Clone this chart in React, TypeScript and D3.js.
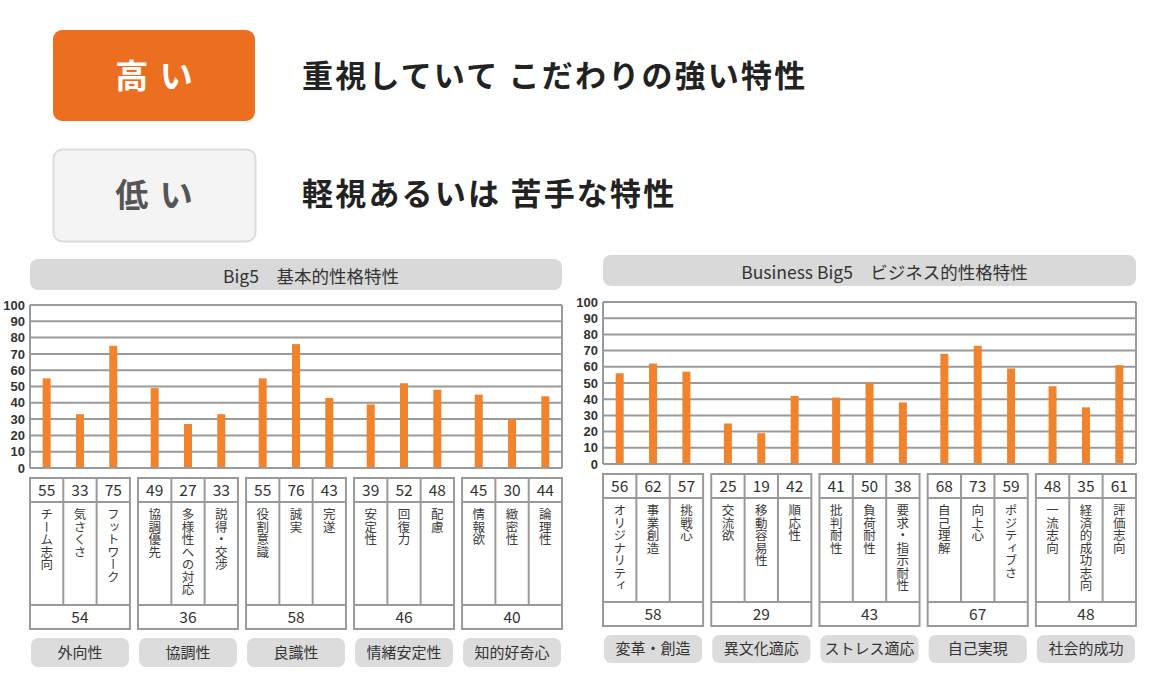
import React from "react";
import * as d3 from "d3";

const yTicks = [0, 10, 20, 30, 40, 50, 60, 70, 80, 90, 100];

const big5Groups = ["外向性", "協調性", "良識性", "情緒安定性", "知的好奇心"];
const big5Labels = [
  ["チーム志向", "気さくさ", "フットワーク"],
  ["協調優先", "多様性への対応", "説得・交渉"],
  ["役割意識", "誠実", "完遂"],
  ["安定性", "回復力", "配慮"],
  ["情報欲", "緻密性", "論理性"],
];
const big5Values = [
  [55, 33, 75],
  [49, 27, 33],
  [55, 76, 43],
  [39, 52, 48],
  [45, 30, 44],
];
const big5Summary = [54, 36, 58, 46, 40];

const bizGroups = ["変革・創造", "異文化適応", "ストレス適応", "自己実現", "社会的成功"];
const bizLabels = [
  ["オリジナリティ", "事業創造", "挑戦心"],
  ["交流欲", "移動容易性", "順応性"],
  ["批判耐性", "負荷耐性", "要求・指示耐性"],
  ["自己理解", "向上心", "ポジティブさ"],
  ["一流志向", "経済的成功志向", "評価志向"],
];
const bizValues = [
  [56, 62, 57],
  [25, 19, 42],
  [41, 50, 38],
  [68, 73, 59],
  [48, 35, 61],
];
const bizSummary = [58, 29, 43, 67, 48];

const JP = "'Noto Sans CJK JP', 'Noto Sans', sans-serif";
const NUM = "'Liberation Sans', Arial, sans-serif";
const BAR = "#f0832c";
const GRID = "#9a9a9a";

type PanelProps = {
  title: string;
  groups: string[];
  labels: string[][];
  values: number[][];
  summary: number[];
  x0: number;
  x1: number;
  titleY0: number;
  titleY1: number;
  plotTop: number;
  plotBottom: number;
  tTop: number;
  tValBottom: number;
  tLabBottom: number;
  tSumBottom: number;
  pillTop: number;
  pillBottom: number;
};

function Panel(p: PanelProps) {
  const y = d3.scaleLinear().domain([0, 100]).range([p.plotBottom, p.plotTop]);
  const gx = d3
    .scaleBand<number>()
    .domain(d3.range(p.groups.length))
    .range([p.x0, p.x1])
    .paddingInner(0.075)
    .paddingOuter(0);
  const gw = gx.bandwidth();
  const cx = d3.scaleBand<number>().domain([0, 1, 2]).range([0, gw]);
  const cw = cx.bandwidth();
  const barW = 8;
  return (
    <g>
      <rect
        x={p.x0}
        y={p.titleY0}
        width={p.x1 - p.x0}
        height={p.titleY1 - p.titleY0}
        rx={8}
        fill="#d9d9d9"
      />
      <text
        x={(p.x0 + p.x1) / 2 + 15}
        y={(p.titleY0 + p.titleY1) / 2 + 2}
        dy="0.36em"
        textAnchor="middle"
        fontFamily={JP}
        fontSize={17.5}
        fill="#333"
      >
        {p.title}
      </text>
      {yTicks.map((t) => (
        <g key={t}>
          <line x1={p.x0} x2={p.x1} y1={y(t)} y2={y(t)} stroke={GRID} strokeWidth={2} />
          <text
            x={p.x0 - 5}
            y={y(t)}
            dy="0.36em"
            textAnchor="end"
            fontFamily={NUM}
            fontSize={13}
            fontWeight={600}
            fill="#333"
          >
            {t}
          </text>
        </g>
      ))}
      <line x1={p.x0} x2={p.x0} y1={y(100)} y2={y(0)} stroke={GRID} strokeWidth={2} />
      <line x1={p.x1} x2={p.x1} y1={y(100)} y2={y(0)} stroke={GRID} strokeWidth={2} />
      {p.values.map((vals, gi) =>
        vals.map((v, ci) => {
          const c = (gx(gi) as number) + (cx(ci) as number) + cw / 2;
          return (
            <rect
              key={`${gi}-${ci}`}
              x={c - barW / 2}
              y={y(v)}
              width={barW}
              height={y(0) - y(v) - 1}
              fill={BAR}
            />
          );
        })
      )}
      {p.groups.map((g, gi) => {
        const gx0 = gx(gi) as number;
        return (
          <g key={g}>
            <rect
              x={gx0}
              y={p.tTop}
              width={gw}
              height={p.tSumBottom - p.tTop}
              fill="#fff"
              stroke={GRID}
              strokeWidth={2}
            />
            <line x1={gx0} x2={gx0 + gw} y1={p.tValBottom} y2={p.tValBottom} stroke={GRID} strokeWidth={2} />
            <line x1={gx0} x2={gx0 + gw} y1={p.tLabBottom} y2={p.tLabBottom} stroke={GRID} strokeWidth={2} />
            {[1, 2].map((ci) => (
              <line
                key={ci}
                x1={gx0 + (cx(ci) as number)}
                x2={gx0 + (cx(ci) as number)}
                y1={p.tTop}
                y2={p.tLabBottom}
                stroke={GRID}
                strokeWidth={2}
              />
            ))}
            {p.values[gi].map((v, ci) => {
              const c = gx0 + (cx(ci) as number) + cw / 2;
              return (
                <g key={ci}>
                  <text
                    x={c}
                    y={(p.tTop + p.tValBottom) / 2}
                    dy="0.36em"
                    textAnchor="middle"
                    fontFamily={JP}
                    fontSize={15.5}
                    fill="#333"
                  >
                    {v}
                  </text>
                  <text
                    x={c}
                    y={p.tValBottom + 6}
                    fontFamily={JP}
                    fontSize={12.5}
                    fill="#3a3a3a"
                    style={{ writingMode: "vertical-rl" as any }}
                  >
                    {p.labels[gi][ci]}
                  </text>
                </g>
              );
            })}
            <text
              x={gx0 + gw / 2}
              y={(p.tLabBottom + p.tSumBottom) / 2}
              dy="0.36em"
              textAnchor="middle"
              fontFamily={JP}
              fontSize={15.5}
              fill="#333"
            >
              {p.summary[gi]}
            </text>
            <rect
              x={gx0 + 1}
              y={p.pillTop}
              width={gw - 2}
              height={p.pillBottom - p.pillTop}
              rx={7}
              fill="#dcdcdc"
            />
            <text
              x={gx0 + gw / 2}
              y={(p.pillTop + p.pillBottom) / 2}
              dy="0.36em"
              textAnchor="middle"
              fontFamily={JP}
              fontSize={15}
              fill="#333"
            >
              {g}
            </text>
          </g>
        );
      })}
    </g>
  );
}

export default function App() {
  return (
    <svg
      width={1149}
      height={682}
      style={{ position: "absolute", left: 0, top: 0, background: "#fff" }}
    >
      <rect x={0} y={0} width={1149} height={682} fill="#fff" />
      <rect x={53} y={30} width={202} height={91} rx={9} fill="#ec6f21" />
      <text x={155} y={76} dy="0.36em" textAnchor="middle" fontFamily={JP} fontWeight={700} fontSize={33} letterSpacing={2} fill="#fff">
        高 い
      </text>
      <rect x={53.5} y={149.5} width={202} height={92} rx={9} fill="#f4f4f4" stroke="#dcdcdc" strokeWidth={2} />
      <text x={155} y={195} dy="0.36em" textAnchor="middle" fontFamily={JP} fontWeight={700} fontSize={33} letterSpacing={2} fill="#555">
        低 い
      </text>
      <text x={302} y={76} dy="0.36em" fontFamily={JP} fontWeight={700} fontSize={31} letterSpacing={2.2} fill="#222">
        重視していて こだわりの強い特性
      </text>
      <text x={302} y={194} dy="0.36em" fontFamily={JP} fontWeight={700} fontSize={31} letterSpacing={2.2} fill="#222">
        軽視あるいは 苦手な特性
      </text>
      <Panel
        title="Big5　基本的性格特性"
        groups={big5Groups}
        labels={big5Labels}
        values={big5Values}
        summary={big5Summary}
        x0={30}
        x1={562}
        titleY0={259}
        titleY1={290}
        plotTop={305}
        plotBottom={468}
        tTop={478}
        tValBottom={502}
        tLabBottom={605}
        tSumBottom={629}
        pillTop={638}
        pillBottom={667}
      />
      <Panel
        title="Business Big5　ビジネス的性格特性"
        groups={bizGroups}
        labels={bizLabels}
        values={bizValues}
        summary={bizSummary}
        x0={603}
        x1={1136}
        titleY0={255}
        titleY1={286}
        plotTop={302}
        plotBottom={464}
        tTop={474}
        tValBottom={498}
        tLabBottom={602}
        tSumBottom={626}
        pillTop={635}
        pillBottom={663}
      />
    </svg>
  );
}
